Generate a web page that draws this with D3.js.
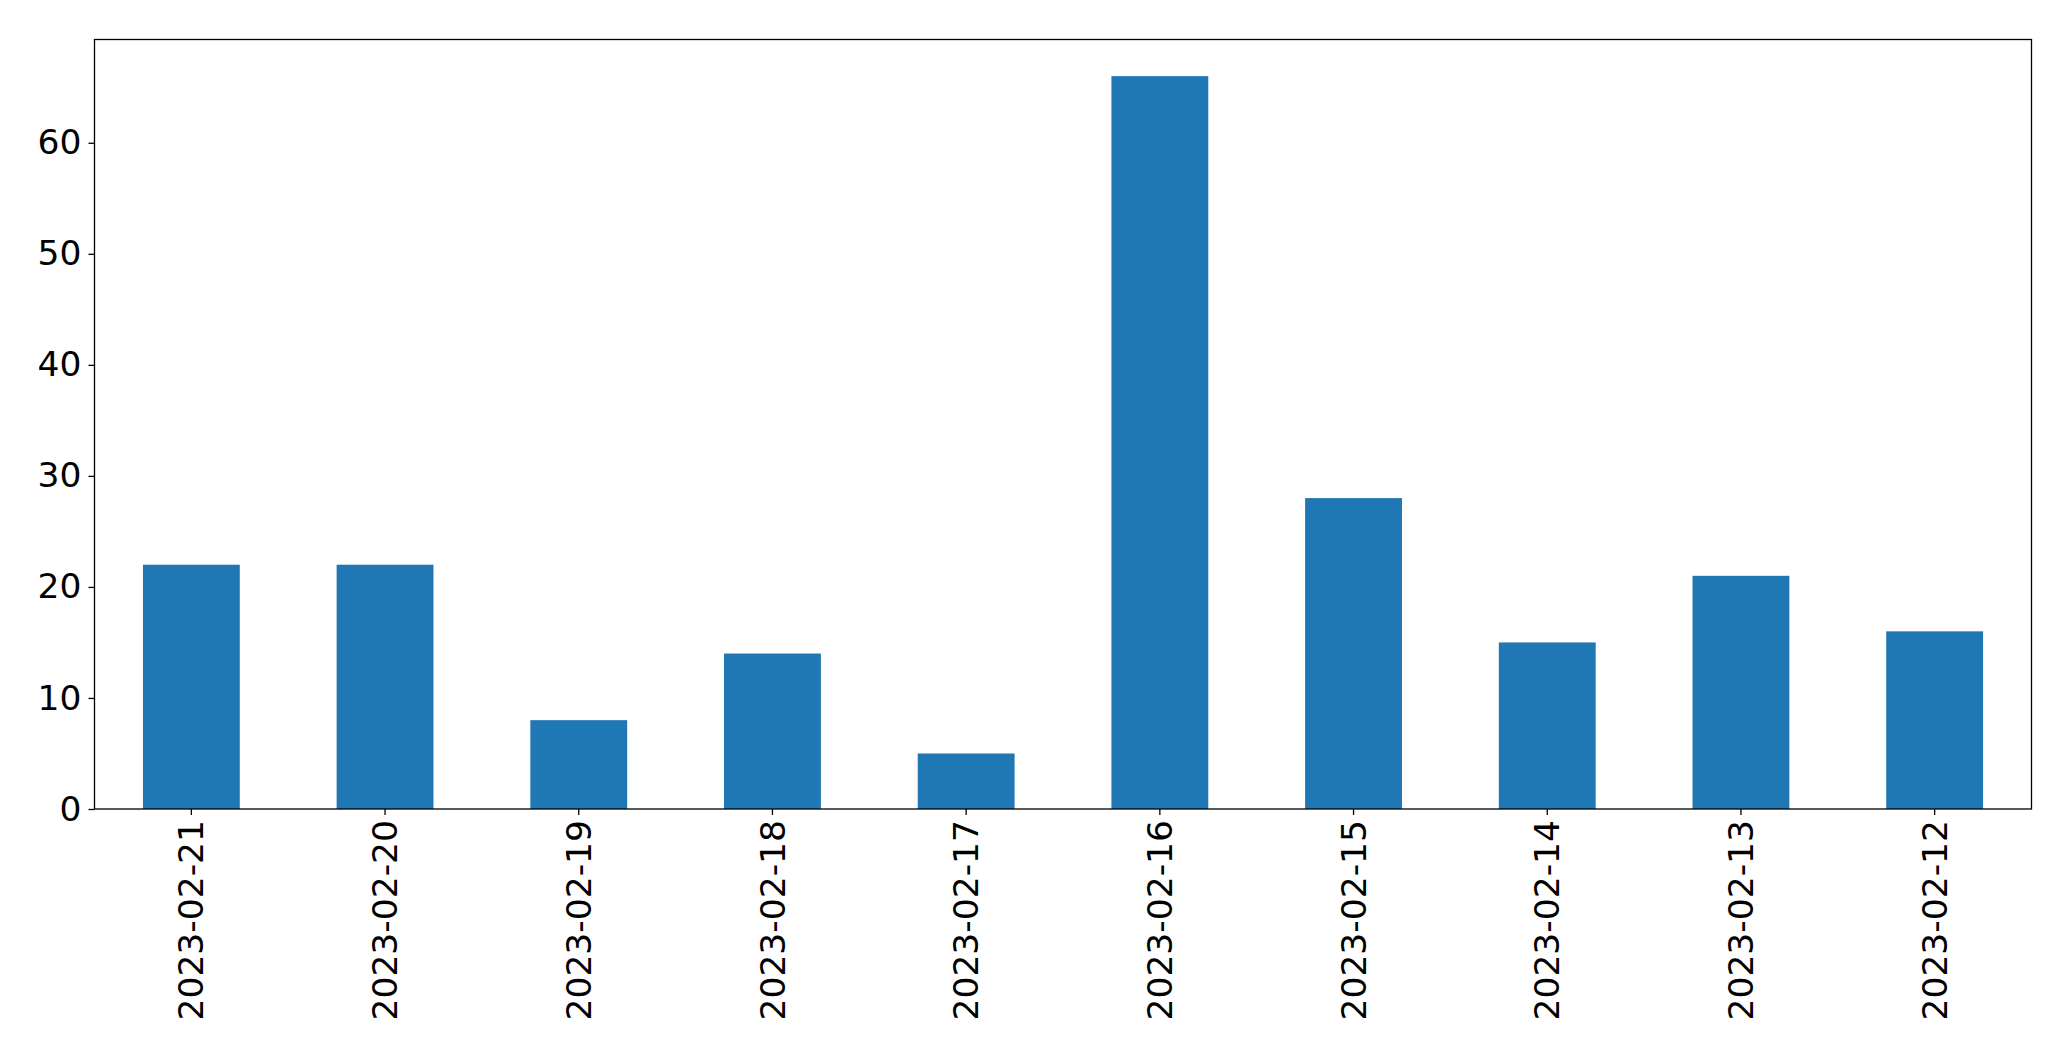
<!DOCTYPE html>
<html><head><meta charset="utf-8">
<script src="https://cdn.jsdelivr.net/npm/d3@7"></script>
<style>body{margin:0;background:#fff}svg{display:block}text{font-family:"DejaVu Sans",sans-serif}</style>
</head><body><svg id="c" width="2071" height="1061"></svg>
<script>
const categories = ["2023-02-21","2023-02-20","2023-02-19","2023-02-18","2023-02-17","2023-02-16","2023-02-15","2023-02-14","2023-02-13","2023-02-12"];
const values = [22,22,8,14,5,66,28,15,21,16];
const yTicks = [0,10,20,30,40,50,60];

const svg = d3.select("#c");
const L=94.5, R=2031.5, T=39.5, B=809;
const x = d3.scaleBand().domain(categories).range([L,R]).paddingInner(0.5).paddingOuter(0.25);
const y = d3.scaleLinear().domain([0, d3.max(values)*1.05]).range([B,T]);

svg.append("g").selectAll("rect").data(values).join("rect")
  .attr("x",(d,i)=>x(categories[i])).attr("width",x.bandwidth())
  .attr("y",d=>y(d)).attr("height",d=>B-y(d)).attr("fill","#1f77b4");

svg.append("rect").attr("x",L).attr("y",T).attr("width",R-L).attr("height",B-T)
  .attr("fill","none").attr("stroke","#000").attr("stroke-width",1.3);

const ya = svg.append("g").attr("transform",`translate(${L},0)`)
  .call(d3.axisLeft(y).tickValues(yTicks).tickSize(6).tickPadding(7));
ya.select(".domain").remove();
ya.selectAll("text").attr("font-size",34.5).attr("fill","#000").attr("font-family","DejaVu Sans");
ya.selectAll("line").attr("stroke","#000").attr("stroke-width",1.3);

const xa = svg.append("g").attr("transform",`translate(0,${B})`)
  .call(d3.axisBottom(x).tickSize(6).tickPadding(0));
xa.select(".domain").remove();
xa.selectAll("line").attr("stroke","#000").attr("stroke-width",1.3);
xa.selectAll("text").attr("font-size",34.5).attr("fill","#000").attr("font-family","DejaVu Sans")
  .attr("transform","translate(0,11) rotate(-90)").attr("text-anchor","end")
  .attr("dy","0.35em").attr("x",0).attr("y",0);
</script></body></html>
